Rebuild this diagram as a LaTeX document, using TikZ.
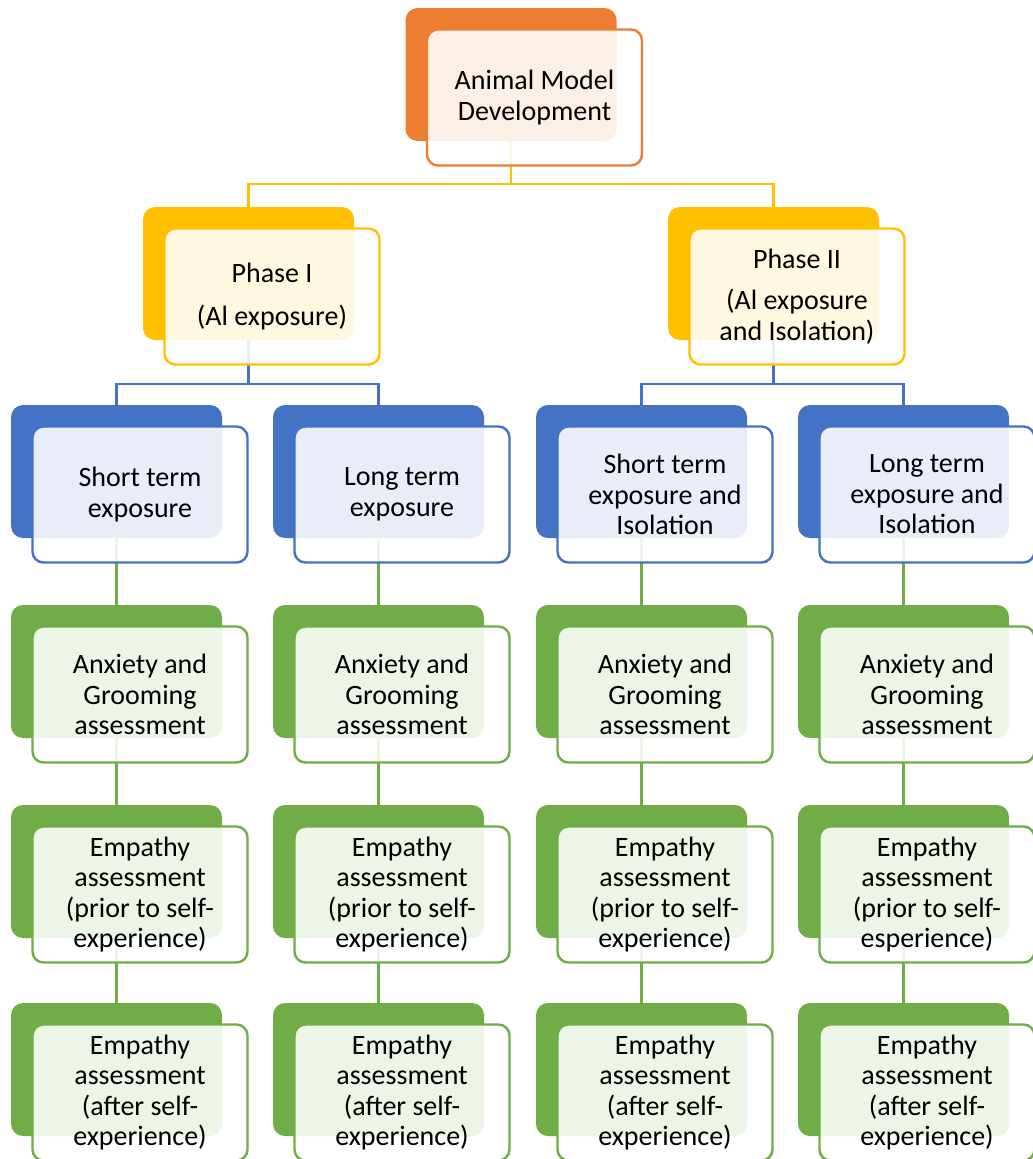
\documentclass[tikz,border=0pt]{standalone}
\usepackage{fontspec}
\setmainfont{Carlito}
\usetikzlibrary{calc,positioning}

\definecolor{accOrange}{HTML}{ED7D31}
\definecolor{accGold}{HTML}{FFC000}
\definecolor{accBlue}{HTML}{4472C4}
\definecolor{accGreen}{HTML}{70AD47}

\tikzset{
  back/.style={fill=#1,draw=none,rounded corners=12pt,minimum width=211pt,minimum height=133pt,inner sep=0pt},
  front/.style={draw=#1,line width=2.4pt,fill=white,fill opacity=0.88,text opacity=1,rounded corners=11pt,
    minimum width=215pt,minimum height=136pt,inner sep=0pt,align=center,font=\fontsize{28}{30.5}\selectfont},
  link/.style={draw=#1,line width=2.2pt},
}

\begin{document}
\begin{tikzpicture}[x=1pt,y=-1pt]

  \pgfmathsetmacro{\dx}{23.5}
  \pgfmathsetmacro{\dy}{23}
  \useasboundingbox (0,0) rectangle (1033,1159);

  % back plates
  \node[back=accOrange] (top) at (511,74.5) {};
  \node[back=accGold] (ph1) at (248.5,273.5) {};
  \node[back=accGold] (ph2) at (773.5,273.5) {};

  \node[back=accBlue] (st1) at (116.5,471.5) {};
  \node[back=accBlue] (lt1) at (378.5,471.5) {};
  \node[back=accBlue] (st2) at (641.5,471.5) {};
  \node[back=accBlue] (lt2) at (903.5,471.5) {};

  \node[back=accGreen] (ag1) at (116.5,671.5) {};
  \node[back=accGreen] (ag2) at (378.5,671.5) {};
  \node[back=accGreen] (ag3) at (641.5,671.5) {};
  \node[back=accGreen] (ag4) at (903.5,671.5) {};

  \node[back=accGreen] (ep1) at (116.5,871.5) {};
  \node[back=accGreen] (ep2) at (378.5,871.5) {};
  \node[back=accGreen] (ep3) at (641.5,871.5) {};
  \node[back=accGreen] (ep4) at (903.5,871.5) {};

  \node[back=accGreen] (ea1) at (116.5,1069.5) {};
  \node[back=accGreen] (ea2) at (378.5,1069.5) {};
  \node[back=accGreen] (ea3) at (641.5,1069.5) {};
  \node[back=accGreen] (ea4) at (903.5,1069.5) {};

  % connectors
  \draw[link=accGold] (top.south) -- ++(0,43) coordinate (j0) -| (ph1.north);
  \draw[link=accGold] (j0) -| (ph2.north);
  \draw[link=accBlue] (ph1.south) -- ++(0,44) coordinate (j1) -| (st1.north);
  \draw[link=accBlue] (j1) -| (lt1.north);
  \draw[link=accBlue] (ph2.south) -- ++(0,44) coordinate (j2) -| (st2.north);
  \draw[link=accBlue] (j2) -| (lt2.north);

  \draw[link=accGreen] (st1.south) -- (ag1.north) (ag1.south) -- (ep1.north) (ep1.south) -- (ea1.north);
  \draw[link=accGreen] (lt1.south) -- (ag2.north) (ag2.south) -- (ep2.north) (ep2.south) -- (ea2.north);
  \draw[link=accGreen] (st2.south) -- (ag3.north) (ag3.south) -- (ep3.north) (ep3.south) -- (ea3.north);
  \draw[link=accGreen] (lt2.south) -- (ag4.north) (ag4.south) -- (ep4.north) (ep4.south) -- (ea4.north);

  % front cards with the labels
  \node[front=accOrange] (topF) at ($(top)+(\dx,\dy)$) {Animal Model\\Development};
  \node[front=accGold] (ph1F) at ($(ph1)+(\dx,\dy)$) {Phase I\\[13pt](Al exposure)};
  \node[front=accGold] (ph2F) at ($(ph2)+(\dx,\dy)$) {Phase II\\[11pt](Al exposure\\and Isolation)};

  \node[front=accBlue] (st1F) at ($(st1)+(\dx,\dy)$) {Short term\\exposure};
  \node[front=accBlue] (lt1F) at ($(lt1)+(\dx,\dy)$) {Long term\\exposure};
  \node[front=accBlue] (st2F) at ($(st2)+(\dx,\dy)$) {Short term\\exposure and\\Isolation};
  \node[front=accBlue] (lt2F) at ($(lt2)+(\dx,\dy)$) {Long term\\exposure and\\Isolation};

  \node[front=accGreen] (ag1F) at ($(ag1)+(\dx,\dy)$) {Anxiety and\\Grooming\\assessment};
  \node[front=accGreen] (ag2F) at ($(ag2)+(\dx,\dy)$) {Anxiety and\\Grooming\\assessment};
  \node[front=accGreen] (ag3F) at ($(ag3)+(\dx,\dy)$) {Anxiety and\\Grooming\\assessment};
  \node[front=accGreen] (ag4F) at ($(ag4)+(\dx,\dy)$) {Anxiety and\\Grooming\\assessment};

  \node[front=accGreen] (ep1F) at ($(ep1)+(\dx,\dy)$) {Empathy\\assessment\\(prior to self-\\experience)};
  \node[front=accGreen] (ep2F) at ($(ep2)+(\dx,\dy)$) {Empathy\\assessment\\(prior to self-\\experience)};
  \node[front=accGreen] (ep3F) at ($(ep3)+(\dx,\dy)$) {Empathy\\assessment\\(prior to self-\\experience)};
  \node[front=accGreen] (ep4F) at ($(ep4)+(\dx,\dy)$) {Empathy\\assessment\\(prior to self-\\esperience)};

  \node[front=accGreen] (ea1F) at ($(ea1)+(\dx,\dy)$) {Empathy\\assessment\\(after self-\\experience)};
  \node[front=accGreen] (ea2F) at ($(ea2)+(\dx,\dy)$) {Empathy\\assessment\\(after self-\\experience)};
  \node[front=accGreen] (ea3F) at ($(ea3)+(\dx,\dy)$) {Empathy\\assessment\\(after self-\\experience)};
  \node[front=accGreen] (ea4F) at ($(ea4)+(\dx,\dy)$) {Empathy\\assessment\\(after self-\\experience)};

\end{tikzpicture}
\end{document}
